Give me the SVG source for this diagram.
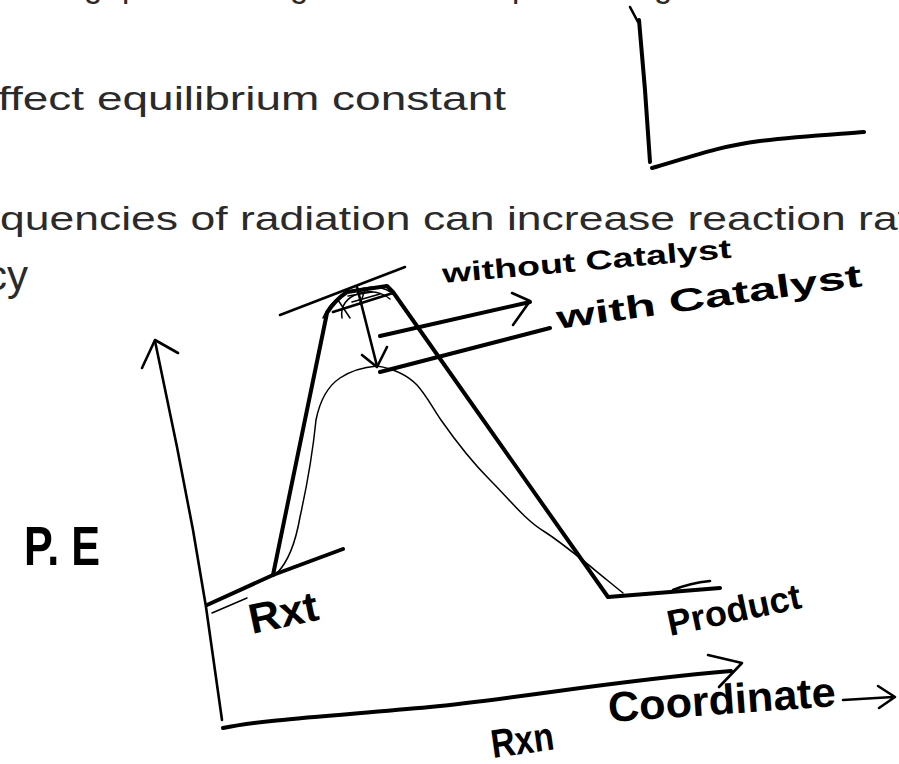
<svg xmlns="http://www.w3.org/2000/svg" width="899" height="764" viewBox="0 0 899 764">
<style>
.note{font-family:"Liberation Sans","DejaVu Sans",sans-serif;font-size:33px;fill:#2a2a2a;}
.hand{font-family:"Liberation Sans","DejaVu Sans",sans-serif;font-weight:bold;fill:#000;}
.thick{fill:none;stroke:#000;stroke-width:4;stroke-linecap:round;stroke-linejoin:round;}
.mid{fill:none;stroke:#000;stroke-width:2.6;stroke-linecap:round;stroke-linejoin:round;}
.thin{fill:none;stroke:#000;stroke-width:1.5;stroke-linecap:round;stroke-linejoin:round;}
</style>
<rect width="899" height="764" fill="#fff"/>
<g id="notes">
<text class="note" x="84" y="-3">g</text>
<text class="note" x="122" y="-3">p</text>
<text class="note" x="290" y="-3">g</text>
<text class="note" x="512" y="-3">p</text>
<text class="note" x="654" y="-3">g</text>
<text class="note" x="-2" y="110" textLength="508" lengthAdjust="spacingAndGlyphs">ffect equilibrium constant</text>
<text class="note" x="0" y="230" textLength="910" lengthAdjust="spacingAndGlyphs">quencies of radiation can increase reaction rat</text>
<text class="note" x="-14" y="290" style="font-size:42px">cy</text>
</g>
<g id="small-graph">
<path class="mid" d="M630,7 L638,22"/>
<path class="thick" d="M639,20 L645,90 L650,162"/>
<path class="thick" d="M652,168 C690,157 720,146 760,141 S840,134 864,132"/>
</g>
<g id="axes">
<path class="mid" d="M155,341 L177,447 L193,530 L206,607 L222,720"/>
<path class="mid" d="M142,368 L155,340 L178,353"/>
<path class="thick" d="M223,728 C260,720 330,716 430,707 C520,698 620,680 731,671"/>
<path class="mid" d="M708,655 L742,663 L719,687"/>
</g>
<g id="curves">
<path class="thick" d="M207,605 L273,575 L343,549"/>
<path class="thin" d="M212,613 L247,598"/>
<path class="thick" d="M273,575 L327,313 Q335,300 347,292 L387,286 L393,292 L608,597 L720,588"/>
<path class="mid" d="M333,312 L393,293"/>
<path class="mid" d="M673,590 Q690,583 710,581"/>
<path class="thin" d="M277,573 C288,562 296,540 300,517 C306,490 312,460 316,420 C320,400 328,386 340,378 C352,370 365,367 377,366 C390,368 405,373 417,385 C426,395 431,405 441,420 C455,440 470,460 490,480 C510,500 525,520 545,532 C565,545 585,562 607,580 L623,593"/>
<path class="mid" d="M280,315 L405,267"/>
<path class="thin" d="M323,318 C330,300 345,290 372,287 C385,287 392,292 396,297"/>
<path class="thin" d="M342,318 C340,305 348,297 360,293 C372,290 382,292 390,299"/>
<path class="thin" d="M338,300 L350,318 M348,296 L372,292 M352,302 L380,294 M365,290 L360,304"/>
</g>
<g id="markers">
<path class="mid" d="M357,287 L377,366"/>
<path class="mid" d="M362,355 L377,367 L387,347"/>
<path class="thick" d="M380,336 L530,302"/>
<path class="mid" d="M512,293 L530,301 L513,325"/>
<path class="thick" d="M380,372 L550,328"/>
<path class="mid" d="M843,700 L893,697 M878,686 L895,697 L879,708"/>
</g>
<g id="labels">
<text class="hand" x="443" y="283" font-size="27" textLength="290" lengthAdjust="spacingAndGlyphs" transform="rotate(-5 443 283)">without Catalyst</text>
<text class="hand" x="558" y="329" font-size="32" textLength="308" lengthAdjust="spacingAndGlyphs" transform="rotate(-8 558 329)">with Catalyst</text>
<text class="hand" x="24" y="565" font-size="56" textLength="76" lengthAdjust="spacingAndGlyphs">P. E</text>
<text class="hand" x="252" y="634" font-size="42" textLength="70" lengthAdjust="spacingAndGlyphs" transform="rotate(-12 252 634)">Rxt</text>
<text class="hand" x="670" y="636" font-size="36" textLength="136" lengthAdjust="spacingAndGlyphs" transform="rotate(-12 670 636)">Product</text>
<text class="hand" x="609" y="722" font-size="42" textLength="228" lengthAdjust="spacingAndGlyphs" transform="rotate(-4 609 722)">Coordinate</text>
<text class="hand" x="493" y="758" font-size="40" textLength="63" lengthAdjust="spacingAndGlyphs" transform="rotate(-8 493 758)">Rxn</text>
</g>
</svg>
